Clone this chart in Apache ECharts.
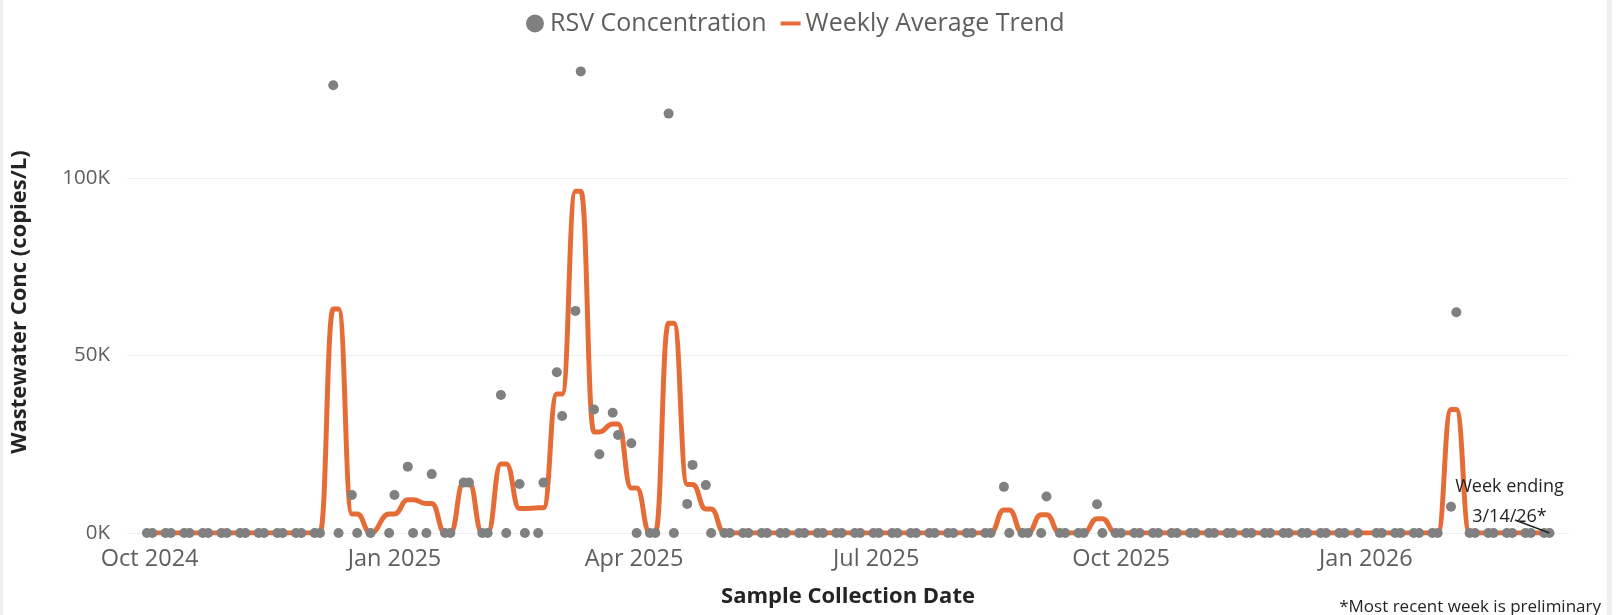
<!DOCTYPE html>
<html>
<head>
<meta charset="utf-8">
<script src="https://cdn.jsdelivr.net/npm/echarts@6/dist/echarts.min.js"></script>
<style>
html, body { margin: 0; padding: 0; background: #fff; }
#chart { width: 1619px; height: 615px; }
</style>
</head>
<body>
<div id="chart"></div>
<script>
// sample dates (two samples a week)
var sampleDates = [
    '2024-09-30', '2024-10-02', '2024-10-07', '2024-10-09', '2024-10-14', '2024-10-16', '2024-10-21', '2024-10-23', '2024-10-28', '2024-10-30',
    '2024-11-04', '2024-11-06', '2024-11-11', '2024-11-13', '2024-11-18', '2024-11-20', '2024-11-25', '2024-11-27',
    '2024-12-02', '2024-12-04', '2024-12-09', '2024-12-11', '2024-12-16', '2024-12-18', '2024-12-23', '2024-12-30',
    '2025-01-01', '2025-01-06', '2025-01-08', '2025-01-13', '2025-01-15', '2025-01-20', '2025-01-22', '2025-01-27', '2025-01-29',
    '2025-02-03', '2025-02-05', '2025-02-10', '2025-02-12', '2025-02-17', '2025-02-19', '2025-02-24', '2025-02-26',
    '2025-03-03', '2025-03-05', '2025-03-10', '2025-03-12', '2025-03-17', '2025-03-19', '2025-03-24', '2025-03-26', '2025-03-31',
    '2025-04-02', '2025-04-07', '2025-04-09', '2025-04-14', '2025-04-16', '2025-04-21', '2025-04-23', '2025-04-28', '2025-04-30',
    '2025-05-05', '2025-05-07', '2025-05-12', '2025-05-14', '2025-05-19', '2025-05-21', '2025-05-26', '2025-05-28',
    '2025-06-02', '2025-06-04', '2025-06-09', '2025-06-11', '2025-06-16', '2025-06-18', '2025-06-23', '2025-06-25', '2025-06-30',
    '2025-07-02', '2025-07-07', '2025-07-09', '2025-07-14', '2025-07-16', '2025-07-21', '2025-07-23', '2025-07-28', '2025-07-30',
    '2025-08-04', '2025-08-06', '2025-08-11', '2025-08-13', '2025-08-18', '2025-08-20', '2025-08-25', '2025-08-27',
    '2025-09-01', '2025-09-03', '2025-09-08', '2025-09-10', '2025-09-15', '2025-09-17', '2025-09-22', '2025-09-24', '2025-09-29',
    '2025-10-01', '2025-10-06', '2025-10-08', '2025-10-13', '2025-10-15', '2025-10-20', '2025-10-22', '2025-10-27', '2025-10-29',
    '2025-11-03', '2025-11-05', '2025-11-10', '2025-11-12', '2025-11-17', '2025-11-19', '2025-11-24', '2025-11-26',
    '2025-12-01', '2025-12-03', '2025-12-08', '2025-12-10', '2025-12-15', '2025-12-17', '2025-12-22', '2025-12-24', '2025-12-29',
    '2026-01-05', '2026-01-07', '2026-01-12', '2026-01-14', '2026-01-19', '2026-01-21', '2026-01-26', '2026-01-28',
    '2026-02-02', '2026-02-04', '2026-02-09', '2026-02-11', '2026-02-16', '2026-02-18', '2026-02-23', '2026-02-25',
    '2026-03-02', '2026-03-04', '2026-03-09', '2026-03-11'
];

// RSV concentration, copies/L (same layout as sampleDates)
var rsvValues = [
    0, 0, 0, 0, 0, 0, 0, 0, 0, 0,
    0, 0, 0, 0, 0, 0, 0, 0,
    0, 0, 126200, 0, 10700, 0, 0, 0,
    10700, 18700, 0, 0, 16600, 0, 0, 14200, 14200,
    0, 0, 38900, 0, 13800, 0, 0, 14200,
    45300, 33000, 62600, 130100, 34800, 22200, 33900, 27600, 25300,
    0, 0, 0, 118200, 0, 8200, 19200, 13500, 0,
    0, 0, 0, 0, 0, 0, 0, 0,
    0, 0, 0, 0, 0, 0, 0, 0, 0,
    0, 0, 0, 0, 0, 0, 0, 0, 0,
    0, 0, 0, 0, 13000, 0, 0, 0,
    0, 10300, 0, 0, 0, 0, 8100, 0, 0,
    0, 0, 0, 0, 0, 0, 0, 0, 0,
    0, 0, 0, 0, 0, 0, 0, 0,
    0, 0, 0, 0, 0, 0, 0, 0, 0,
    0, 0, 0, 0, 0, 0, 0, 0,
    7400, 62200, 0, 0, 0, 0, 0, 0,
    0, 0, 0, 0
];

// weekly average trend (same layout)
var trendValues = [
    0, 0, 0, 0, 0, 0, 0, 0, 0, 0,
    0, 0, 0, 0, 0, 0, 0, 0,
    0, 0, 63100, 63100, 5350, 5350, 0, 5350,
    5350, 9350, 9350, 8300, 8300, 0, 0, 14200, 14200,
    0, 0, 19450, 19450, 6900, 6900, 7100, 7100,
    39150, 39150, 96350, 96350, 28500, 28500, 30750, 30750, 12650,
    12650, 0, 0, 59100, 59100, 13700, 13700, 6750, 6750,
    0, 0, 0, 0, 0, 0, 0, 0,
    0, 0, 0, 0, 0, 0, 0, 0, 0,
    0, 0, 0, 0, 0, 0, 0, 0, 0,
    0, 0, 0, 0, 6500, 6500, 0, 0,
    5150, 5150, 0, 0, 0, 0, 4050, 4050, 0,
    0, 0, 0, 0, 0, 0, 0, 0, 0,
    0, 0, 0, 0, 0, 0, 0, 0,
    0, 0, 0, 0, 0, 0, 0, 0, 0,
    0, 0, 0, 0, 0, 0, 0, 0,
    34800, 34800, 0, 0, 0, 0, 0, 0,
    0, 0, 0, 0
];

var tickDates = ['2024-10-01', '2025-01-01', '2025-04-01', '2025-07-01', '2025-10-01', '2026-01-01'];
var tickLabels = ['Oct 2024', 'Jan 2025', 'Apr 2025', 'Jul 2025', 'Oct 2025', 'Jan 2026'];
var yTicks = [0, 50000, 100000];

var FONT = '"Segoe UI", "Open Sans", sans-serif';

function toTime(s) {
    var p = s.split('-');
    return new Date(+p[0], +p[1] - 1, +p[2]).getTime();
}

var tickTimes = tickDates.map(toTime);
var lastIdx = sampleDates.length - 1;
var lastTime = toTime(sampleDates[lastIdx]);

var rsvData = sampleDates.map(function (d, i) {
    return [toTime(d), rsvValues[i]];
});
var trendData = sampleDates.map(function (d, i) {
    var item = { value: [toTime(d), trendValues[i]] };
    if (i === lastIdx) {
        // "week ending" note on the last point
        item.symbol = 'circle';
        item.symbolSize = 1;
        item.label = {
            show: true
            , position: 'top'
            , formatter: 'Week ending\n3/14/26*'
            , fontFamily: FONT
            , fontSize: 18
            , lineHeight: 30
            , color: '#252423'
            , align: 'center'
        };
    }
    return item;
});

var myChart = echarts.init(document.getElementById('chart'));
var option = {
    backgroundColor: '#fff'
    , animation: false
    , textStyle: { fontFamily: FONT }
    , legend: {
        left: 521
        , top: 6
        , itemWidth: 20
        , itemHeight: 18
        , itemGap: 14
        , textStyle: { fontSize: 25, color: '#605E5C', fontFamily: FONT }
        , data: [
            { name: 'RSV Concentration', icon: 'circle' }
            , { name: 'Weekly Average Trend', icon: 'path://M0,0L20,0L20,4L0,4Z', itemStyle: { color: '#E66C37' } }
        ]
    }
    , grid: { left: 127, right: 50, top: 54, bottom: 82 }
    , xAxis: {
        type: 'value'
        , min: new Date(2024, 8, 22, 12).getTime()
        , max: new Date(2026, 2, 18, 8).getTime()
        , axisLine: { show: false }
        , axisTick: { show: false, customValues: tickTimes }
        , splitLine: { show: false }
        , axisLabel: {
            customValues: tickTimes
            , color: '#605E5C'
            , fontSize: 23.5
            , margin: 14
            , formatter: function (val) {
                var i = tickTimes.indexOf(val);
                return i >= 0 ? tickLabels[i] : '';
            }
        }
        , name: 'Sample Collection Date'
        , nameLocation: 'middle'
        , nameGap: 53
        , nameTextStyle: { fontSize: 22, fontWeight: 'bold', color: '#252423', fontFamily: FONT }
    }
    , yAxis: {
        type: 'value'
        , min: 0
        , max: 135000
        , axisLine: { show: false }
        , axisTick: { show: false, customValues: yTicks }
        , axisLabel: {
            customValues: yTicks
            , color: '#605E5C'
            , fontSize: 20.5
            , margin: 17
            , formatter: function (v) { return (v / 1000) + 'K'; }
        }
        , splitLine: { show: true, lineStyle: { color: '#EEEEEE', width: 1 } }
        , name: 'Wastewater Conc (copies/L)'
        , nameLocation: 'middle'
        , nameGap: 96
        , nameTextStyle: {
            fontSize: 22
            , fontWeight: 'bold'
            , color: '#252423'
            , fontFamily: FONT
            , padding: [0, 17, 0, 0]
        }
    }
    , series: [
        {
            name: 'Weekly Average Trend'
            , type: 'line'
            , z: 2
            , symbol: 'none'
            , smooth: 0.5
            , smoothMonotone: 'x'
            , lineStyle: { color: '#E66C37', width: 5 }
            , itemStyle: { color: '#E66C37' }
            , labelLayout: { dx: -40, dy: 4 }
            , markLine: {
                silent: true
                , symbol: 'none'
                , animation: false
                , label: { show: false }
                , lineStyle: { color: '#252423', width: 1.5, type: 'solid' }
                , data: [[{ coord: [lastTime, 0] }, { x: 1515, y: 520 }]]
            }
            , data: trendData
        }
        , {
            name: 'RSV Concentration'
            , type: 'scatter'
            , z: 3
            , symbol: 'circle'
            , symbolSize: 10
            , itemStyle: { color: '#808080', opacity: 1 }
            , data: rsvData
        }
    ]
    , graphic: [
        { type: 'rect', left: 0, top: 0, shape: { width: 3, height: 615 }, style: { fill: '#EFEFEF' } }
        , { type: 'rect', left: 1607, top: 0, shape: { width: 5, height: 615 }, style: { fill: '#EFEFEF' } }
        , {
            type: 'text'
            , right: 18
            , bottom: -1
            , style: { text: '*Most recent week is preliminary', fontSize: 17, fill: '#252423', fontFamily: FONT }
        }
    ]
};
myChart.setOption(option);
</script>
</body>
</html>
